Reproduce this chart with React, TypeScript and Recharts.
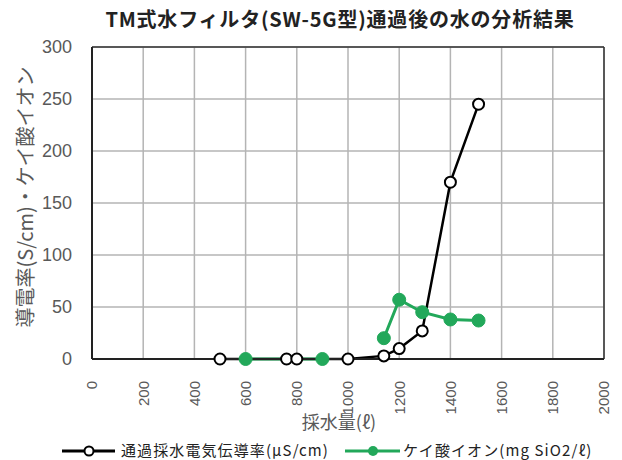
import React from "react"
import {
  CartesianGrid,
  Line,
  LineChart,
  ReferenceLine,
  XAxis,
  YAxis,
} from "recharts"

// 採水量(ℓ) と 各測定値 (null = 欠測、線を切る)
const conductivityVolume = [500, 760, 800, 1000, 1140, 1200, 1290, 1400, 1510]
const conductivity = [0, 0, 0, 0, 3, 10, 27, 170, 245]
const silicaVolume = [600, 900, 1000, 1140, 1200, 1290, 1400, 1510]
const silica = [0, 0, null, 20, 57, 45, 38, 37]

const xTicks = [0, 200, 400, 600, 800, 1000, 1200, 1400, 1600, 1800, 2000]
const yTicks = [0, 50, 100, 150, 200, 250, 300]

const title = "TM式水フィルタ(SW-5G型)通過後の水の分析結果"
const xLabel = "採水量(ℓ)"
const yLabel = "導電率(S/cm)・ケイ酸イオン"
const seriesNames = ["通過採水電気伝導率(μS/cm)", "ケイ酸イオン(mg SiO2/ℓ)"]

const conductivityData = conductivityVolume.map((v, i) => ({ x: v, y: conductivity[i] }))
const silicaData = silicaVolume.map((v, i) => ({ x: v, y: silica[i] }))

const GREEN = "#22a85a"
const FONT = "'Liberation Sans', 'Noto Sans CJK JP', sans-serif"
const CJK = "'Noto Sans CJK JP', sans-serif"

function XTick(props: any) {
  const { x, y, payload } = props
  const ty = y + 14
  return (
    <text
      x={x}
      y={ty}
      transform={`rotate(-90, ${x}, ${ty})`}
      textAnchor="end"
      dy="0.36em"
      fill="#595959"
      fontSize={15}
      fontFamily={FONT}
    >
      {payload.value}
    </text>
  )
}

export default function App() {
  return (
    <div style={{ position: "absolute", left: 0, top: 0, width: 622, height: 460, background: "#fff" }}>
      <LineChart
        width={622}
        height={460}
        margin={{ top: 47, right: 18, bottom: 0, left: 0 }}
      >
        <CartesianGrid stroke="#b4b4b4" strokeWidth={1.5} />
        <XAxis
          type="number"
          dataKey="x"
          domain={[0, 2000]}
          ticks={xTicks}
          allowDuplicatedCategory={false}
          axisLine={{ stroke: "#222", strokeWidth: 2 }}
          tickLine={false}
          tick={<XTick />}
          height={101}
        />
        <YAxis
          type="number"
          dataKey="y"
          domain={[0, 300]}
          ticks={yTicks}
          axisLine={{ stroke: "#222", strokeWidth: 2 }}
          tickLine={false}
          tick={{ fill: "#595959", fontSize: 18, fontFamily: FONT }}
          tickMargin={14}
          width={92}
        />
        <ReferenceLine y={300} stroke="#333" strokeWidth={1.5} />
        <ReferenceLine x={2000} stroke="#333" strokeWidth={1.5} />
        <Line
          data={conductivityData}
          dataKey="y"
          stroke="#000"
          strokeWidth={2.5}
          dot={{ r: 5.5, stroke: "#000", strokeWidth: 2, fill: "#fff" }}
          isAnimationActive={false}
        />
        <Line
          data={silicaData}
          dataKey="y"
          stroke={GREEN}
          strokeWidth={3}
          connectNulls={false}
          dot={{ r: 6.5, stroke: GREEN, strokeWidth: 1, fill: GREEN }}
          isAnimationActive={false}
        />
      </LineChart>
      <svg
        width={622}
        height={460}
        style={{ position: "absolute", left: 0, top: 0, pointerEvents: "none" }}
      >
        <text x={340} y={27} textAnchor="middle" fontSize={20} fontWeight="bold" letterSpacing={0.8} fill="#222" fontFamily={CJK}>
          {title}
        </text>
        <text
          x={26}
          y={197}
          transform="rotate(-90, 26, 197)"
          textAnchor="middle"
          dy="0.36em"
          fontSize={20}
          fill="#595959"
          fontFamily={CJK}
        >
          {yLabel}
        </text>
        <text x={339} y={429} textAnchor="middle" fontSize={18} fill="#595959" fontFamily={CJK}>
          {xLabel}
        </text>
        <line x1={62} y1={451} x2={115} y2={451} stroke="#000" strokeWidth={3} />
        <circle cx={89} cy={451} r={4.5} fill="#fff" stroke="#000" strokeWidth={2} />
        <text x={121} y={456} fontSize={15} letterSpacing={1.1} fill="#222" fontFamily={CJK}>
          {seriesNames[0]}
        </text>
        <line x1={345} y1={451} x2={400} y2={451} stroke={GREEN} strokeWidth={3} />
        <circle cx={373} cy={451} r={5} fill={GREEN} />
        <text x={403} y={456} fontSize={15} letterSpacing={1.1} fill="#222" fontFamily={CJK}>
          {seriesNames[1]}
        </text>
      </svg>
    </div>
  )
}
